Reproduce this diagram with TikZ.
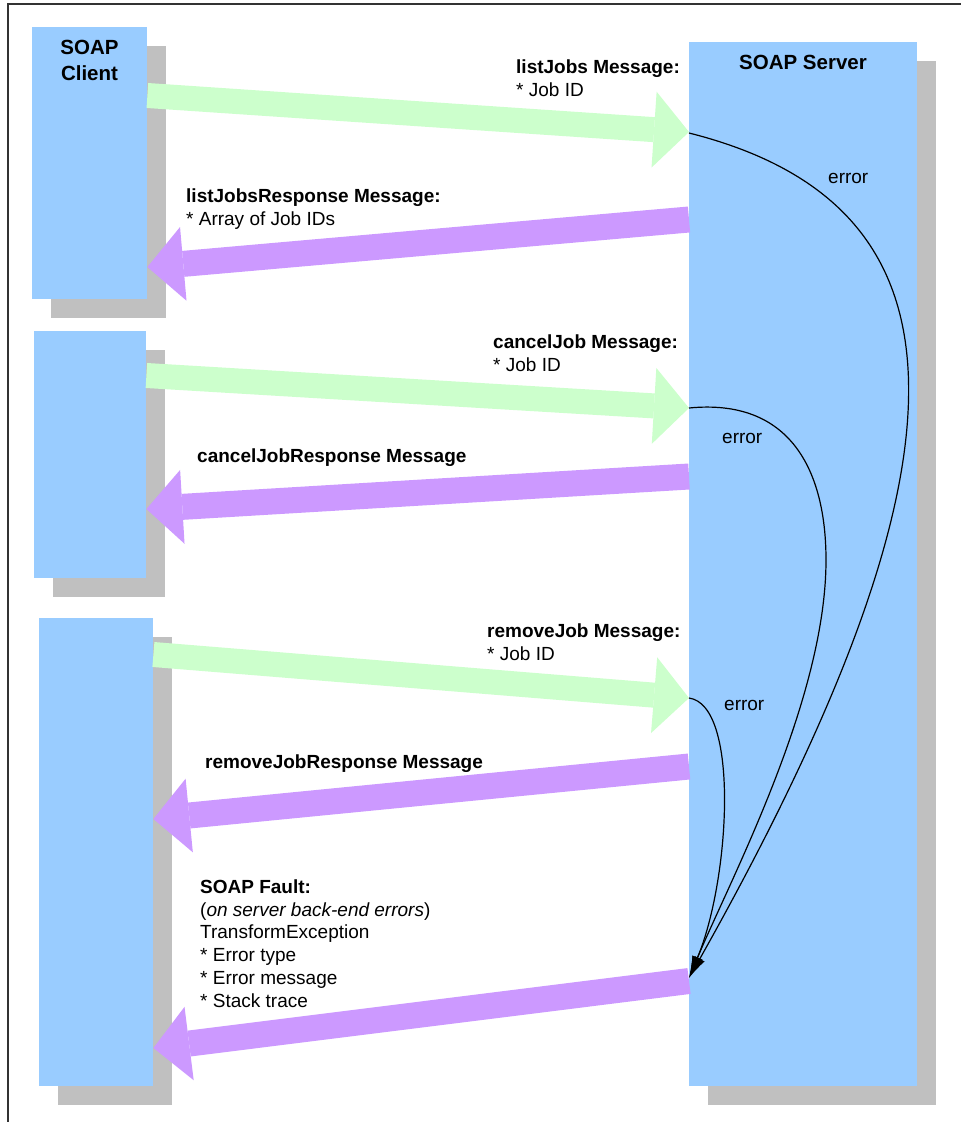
\documentclass[tikz,border=0pt]{standalone}
\usepackage[svgnames]{xcolor}
\usepackage{fontspec}
\setmainfont{Liberation Sans}
\usepackage{tikz}
\usetikzlibrary{arrows.meta,shadows}
\definecolor{boxblue}{HTML}{99CCFF}
\definecolor{shade}{HTML}{C0C0C0}
\definecolor{reqgreen}{HTML}{CCFFCC}
\definecolor{respurple}{HTML}{CC99FF}

\begin{document}
\begin{tikzpicture}[x=1pt, y=-1pt,
      every node/.append style={inner sep=0pt, font=\fontsize{19}{23}\selectfont},
      party/.style={fill=boxblue, anchor=north west,
        drop shadow={shadow xshift=19pt, shadow yshift=-19pt, fill=shade, opacity=1}},
      req/.style={draw=reqgreen, line width=25pt, -{Triangle[length=35pt, width=76pt, line width=0pt]}},
      resp/.style={draw=respurple, line width=26pt, -{Triangle[length=36pt, width=74pt, line width=0pt]}},
      err/.style={line width=1.2pt, -{Latex[length=22pt, width=11pt]}}]
    \tikzstyle{msg} = [anchor=base west, align=left]
    \tikzstyle{boxtitle} = [anchor=base, align=center, font=\fontsize{20.5}{26}\selectfont\bfseries]
    \useasboundingbox (0,0) rectangle (961,1122);
    \fill[white] (0,0) rectangle (961,1122);
    \draw[line width=2pt, black!80] (8,1130) -- (8,4) -- (970,4);

    \node[party, minimum width=115pt, minimum height=272pt] (client1) at (32,27) {};
    \node[party, minimum width=112pt, minimum height=247pt] (client2) at (34,331) {};
    \node[party, minimum width=114pt, minimum height=468pt] (client3) at (39,618) {};
    \node[party, minimum width=228pt, minimum height=1044pt] (server) at (689,42) {};
    \node[boxtitle] (clientname) at (89.5,80) {SOAP\\Client};
    \node[boxtitle] (servername) at (803,69) {SOAP Server};

    \draw[req] (client1.east |- 0,95.5) -- (server.west |- 0,132);
    \draw[resp] (server.west |- 0,219.5) -- (client1.east |- 0,267);
    \draw[req] (client2.east |- 0,375.5) -- (server.west |- 0,408);
    \draw[resp] (server.west |- 0,476.5) -- (client2.east |- 0,509);
    \draw[req] (client3.east |- 0,654.5) -- (server.west |- 0,698);
    \draw[resp] (server.west |- 0,766.5) -- (client3.east |- 0,819);
    \draw[resp] (server.west |- 0,981) -- (client3.east |- 0,1048);

    \draw[err] (server.west |- 0,133) .. controls (975,205) and (985,452) .. (server.west |- 0,978);
    \draw[err] (server.west |- 0,408) .. controls (790,398) and (826,470) .. (826,560)
      .. controls (826,700) and (730,880) .. (server.west |- 0,978);
    \draw[err] (server.west |- 0,698) .. controls (740,705) and (730,880) .. (server.west |- 0,978);
    \node[msg] (error1) at (828,183) {error};
    \node[msg] (error2) at (722,443) {error};
    \node[msg] (error3) at (724,710) {error};

    \node[msg] (listjobs) at (516,96) {\textbf{listJobs Message:}\\* Job ID};
    \node[msg] (listjobsresp) at (186,225) {\textbf{listJobsResponse Message:}\\* Array of Job IDs};
    \node[msg] (canceljob) at (493,371) {\textbf{cancelJob Message:}\\* Job ID};
    \node[msg] (canceljobresp) at (197,462) {\textbf{cancelJobResponse Message}};
    \node[msg] (removejob) at (487,660) {\textbf{removeJob Message:}\\* Job ID};
    \node[msg] (removejobresp) at (205,768) {\textbf{removeJobResponse Message}};
    \node[msg, font=\fontsize{19}{22.7}\selectfont] (fault) at (200,1007)
      {\textbf{SOAP Fault:}\\(\textit{on server back-end errors})\\TransformException\\* Error type\\* Error message\\* Stack trace};
\end{tikzpicture}
\end{document}
